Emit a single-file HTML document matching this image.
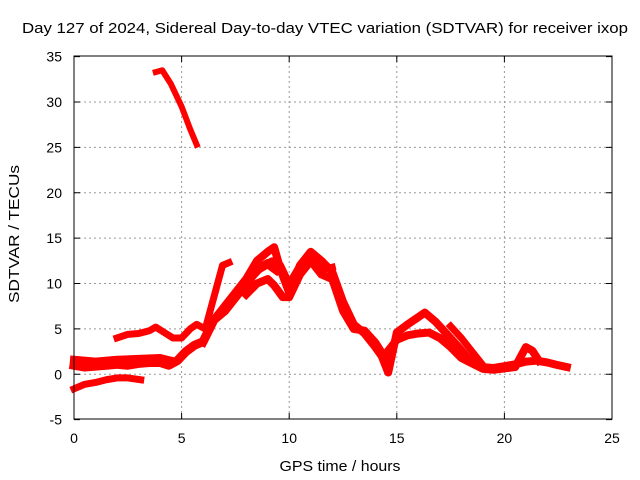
<!DOCTYPE html>
<html><head><meta charset="utf-8"><style>
body{margin:0;background:#fff;}
svg{display:block;font-family:"Liberation Sans",sans-serif;}
</style></head><body>
<svg id="chart" width="640" height="480" viewBox="0 0 640 480">
<text x="325" y="33" font-size="15" text-anchor="middle" textLength="606" lengthAdjust="spacingAndGlyphs">Day 127 of 2024, Sidereal Day-to-day VTEC variation (SDTVAR) for receiver ixop</text>
<g id="grid"></g>
<g id="series"></g>
<rect x="74" y="56" width="538" height="363" fill="none" stroke="#000" stroke-width="1"/>
<g id="ticks"></g>
<text transform="translate(19,234) rotate(-90)" font-size="15" text-anchor="middle" textLength="138" lengthAdjust="spacingAndGlyphs">SDTVAR / TECUs</text>
<text x="340" y="471" font-size="15" text-anchor="middle" textLength="121" lengthAdjust="spacingAndGlyphs">GPS time / hours</text>
</svg>
<script>
const xTicks=[0,5,10,15,20,25];
const yTicks=[-5,0,5,10,15,20,25,30,35];
const topHours=[3.8,4.1,4.5,5.0,5.4,5.7];
const topVals=[33.3,33.5,32,29.5,27,25.3];
const lowHours=[0,0.5,1,1.5,2,2.5,3.1];
const lowVals=[-1.6,-1.1,-0.9,-0.6,-0.4,-0.4,-0.6];
const baseHours=[0,0.5,1,1.5,2,2.5,3,3.5,4,4.4,4.8,5.2,5.6,6,6.5,7,7.5,8,8.5,9,9.4];
const baseVals=[1.0,0.8,0.9,1.0,1.1,1.0,1.2,1.3,1.3,1.0,1.5,2.5,3.2,3.6,6,7,8.5,10,11.5,12.2,11.5];
const base2Hours=[0,1,2,3,4,4.5];
const base2Vals=[1.6,1.4,1.6,1.7,1.8,1.5];
const midHours=[2,2.5,3,3.5,3.8,4.2,4.6,5,5.4,5.7,6.1,6.5,6.9,7.2];
const midVals=[4.0,4.4,4.5,4.8,5.2,4.6,4.0,4.0,5.0,5.5,5.0,8.5,12.0,12.3];
const upHours=[6,6.5,7,7.5,8,8.5,9,9.3,9.6,10,10.5,11,11.5,12,12.5,13,13.5,14,14.3,14.6,15,15.5,16,16.3,16.8,17.3,17.8,18.3,18.9,19.5,20,20.5,21,21.5,22,22.5,22.9];
const upVals=[3.5,6,7.5,9,10.5,12.5,13.5,14,11.5,9,12,13.5,12.5,11.3,8,5.5,4.5,3,2,0.2,4.6,5.5,6.3,6.8,5.8,4.5,3.2,1.8,0.8,0.7,0.9,1.1,1.4,1.5,1.3,1.0,0.8];
const loHours=[8,8.5,9,9.3,9.7,10,10.5,11,11.5,12,12.5,13,13.5,14,14.4,15,15.5,16,16.5,17,17.5,18,18.5,19,19.5,20.5,21,21.3,21.6];
const loVals=[8.8,10,10.5,9.8,8.5,8.5,11,12.5,11,10.5,7,5,4.8,3.5,2,3.8,4.3,4.5,4.6,4.0,3.0,1.8,1.2,0.6,0.5,0.8,3.0,2.6,1.5];
const hiHours=[8.4,8.8,9.2,9.6,10,10.5,11,11.5,12];
const hiVals=[11,12,12.5,12,10,12,12.8,11.5,11.8];
const thirdHours=[17.5,18,18.5,19];
const thirdVals=[5.3,4,2.5,1];
const NS='http://www.w3.org/2000/svg';
function X(h){return 74+h*21.52;}
function Y(v){return 374.3-v*9.075;}
const grid=document.getElementById('grid'),ticks=document.getElementById('ticks'),ser=document.getElementById('series');
xTicks.forEach(t=>{
 if(t>0&&t<25){const l=document.createElementNS(NS,'line');
 
 
 l.setAttribute('x1',X(t));l.setAttribute('x2',X(t));l.setAttribute('y1',56);l.setAttribute('y2',419);
 l.setAttribute('stroke','#999');l.setAttribute('stroke-dasharray','2,3');grid.appendChild(l);}
 const tk=document.createElementNS(NS,'path');
 
 
 tk.setAttribute('d',`M${X(t)},419v-6M${X(t)},56v6`);tk.setAttribute('stroke','#000');ticks.appendChild(tk);
 const tx=document.createElementNS(NS,'text');
 
 
 tx.setAttribute('x',X(t));tx.setAttribute('y',443);tx.setAttribute('font-size','14');tx.setAttribute('text-anchor','middle');tx.textContent=t;ticks.appendChild(tx);
});
yTicks.forEach(t=>{
 if(t>-5&&t<35){const l=document.createElementNS(NS,'line');
 
 
 l.setAttribute('x1',74);l.setAttribute('x2',612);l.setAttribute('y1',Y(t));l.setAttribute('y2',Y(t));
 l.setAttribute('stroke','#999');l.setAttribute('stroke-dasharray','2,3');grid.appendChild(l);}
 const tk=document.createElementNS(NS,'path');
 
 
 tk.setAttribute('d',`M74,${Y(t)}h6M612,${Y(t)}h-6`);tk.setAttribute('stroke','#000');ticks.appendChild(tk);
 const tx=document.createElementNS(NS,'text');
 
 
 tx.setAttribute('x',62);tx.setAttribute('y',Y(t)+5);tx.setAttribute('font-size','14');tx.setAttribute('text-anchor','end');tx.textContent=t;ticks.appendChild(tx);
});
[[topHours,topVals,6],[lowHours,lowVals,7],[baseHours,baseVals,9],[base2Hours,base2Vals,8],[midHours,midVals,7],[upHours,upVals,8],[loHours,loVals,8],[hiHours,hiVals,7],[thirdHours,thirdVals,7]].forEach(s=>{
 const p=document.createElementNS(NS,'polyline');
 
 
 p.setAttribute('points',s[0].map((h,i)=>X(h)+','+Y(s[1][i])).join(' '));
 p.setAttribute('fill','none');p.setAttribute('stroke','#f00');p.setAttribute('stroke-width',s[2]);
 p.setAttribute('stroke-linejoin','round');p.setAttribute('stroke-linecap','square');ser.appendChild(p);
});
</script>
</body></html>
